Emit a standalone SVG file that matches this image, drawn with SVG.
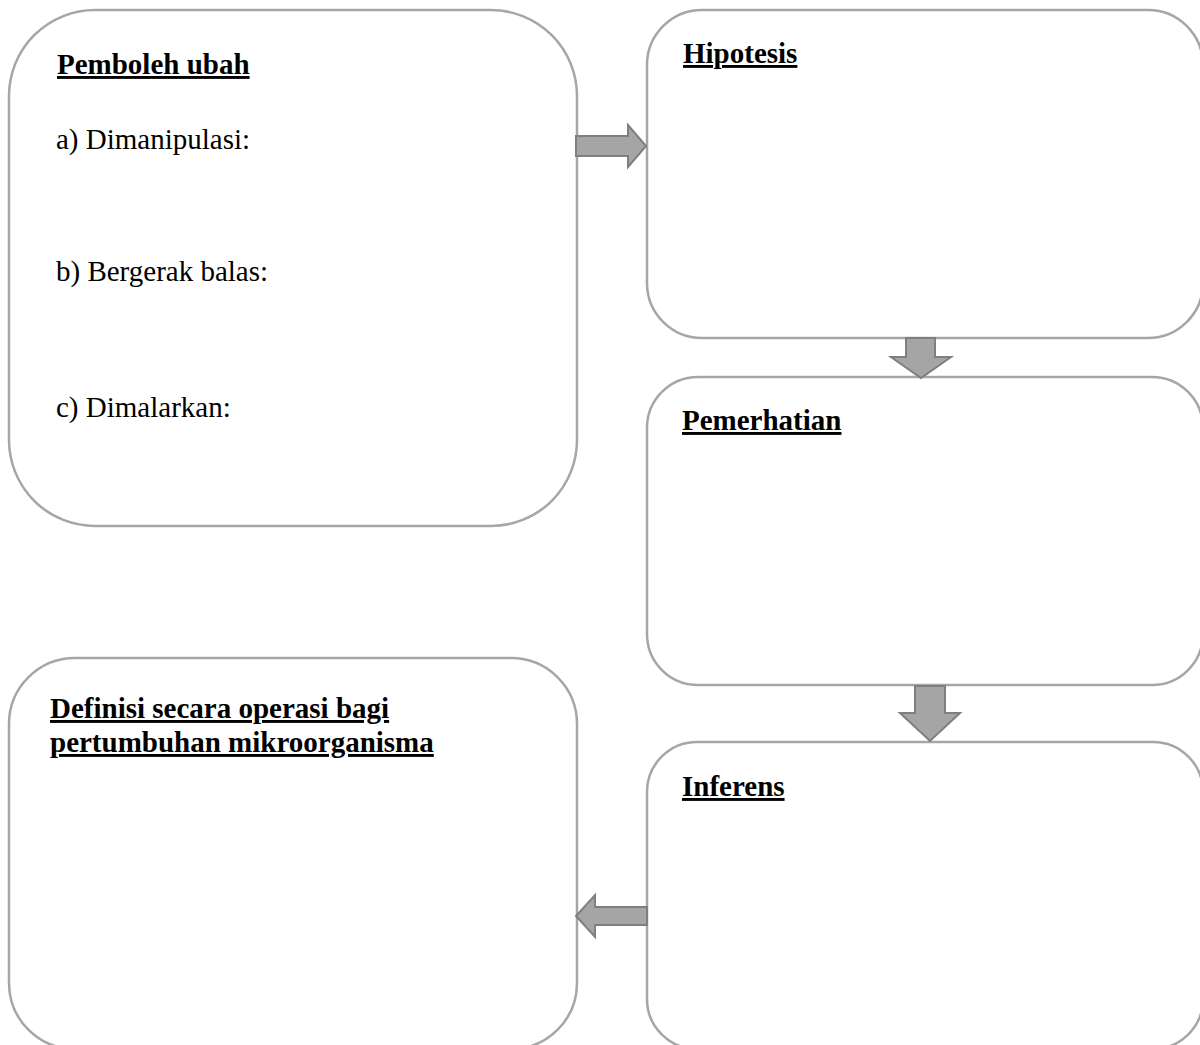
<svg xmlns="http://www.w3.org/2000/svg" width="1200" height="1045" viewBox="0 0 1200 1045">
<style>
.box{fill:#fff;stroke:#a6a6a6;stroke-width:2.5}
.arr{fill:#a5a5a5;stroke:#7f7f7f;stroke-width:2;stroke-linejoin:miter}
.h{font-family:"Liberation Serif","Times New Roman",serif;font-size:29px;font-weight:bold;text-decoration:underline;fill:#000}
.t{font-family:"Liberation Serif","Times New Roman",serif;font-size:29px;fill:#000}
</style>
<rect width="1200" height="1045" fill="#fff"/>
<g id="n-pemboleh">
<rect class="box" x="9" y="10" width="568" height="516" rx="86" ry="86"/>
<text class="h" x="57" y="74">Pemboleh ubah</text>
<text class="t" x="56" y="149">a) Dimanipulasi:</text>
<text class="t" x="56" y="281">b) Bergerak balas:</text>
<text class="t" x="56" y="417">c) Dimalarkan:</text>
</g>
<g id="n-hipotesis">
<rect class="box" x="647" y="10" width="556" height="328" rx="55" ry="55"/>
<text class="h" x="683" y="63">Hipotesis</text>
</g>
<g id="n-pemerhatian">
<rect class="box" x="647" y="377" width="556" height="308" rx="51" ry="51"/>
<text class="h" x="682" y="430">Pemerhatian</text>
</g>
<g id="n-definisi">
<rect class="box" x="9" y="658" width="568" height="391" rx="66" ry="66"/>
<text class="h" x="50" y="718">Definisi secara operasi bagi</text>
<text class="h" x="50" y="752">pertumbuhan mikroorganisma</text>
</g>
<g id="n-inferens">
<rect class="box" x="647" y="742" width="556" height="307" rx="50" ry="50"/>
<text class="h" x="682" y="796">Inferens</text>
</g>
<g id="connectors">
<polygon class="arr" points="576,136 628,136 628,125 646,146 628,167 628,156 576,156"/>
<polygon class="arr" points="906,338 935,338 935,357 951,357 921,378 891,357 906,357"/>
<polygon class="arr" points="915,686 945,686 945,713 960,713 930,741 900,713 915,713"/>
<polygon class="arr" points="647,907 595,907 595,895 576,916 595,937 595,925 647,925"/>
</g>
</svg>
